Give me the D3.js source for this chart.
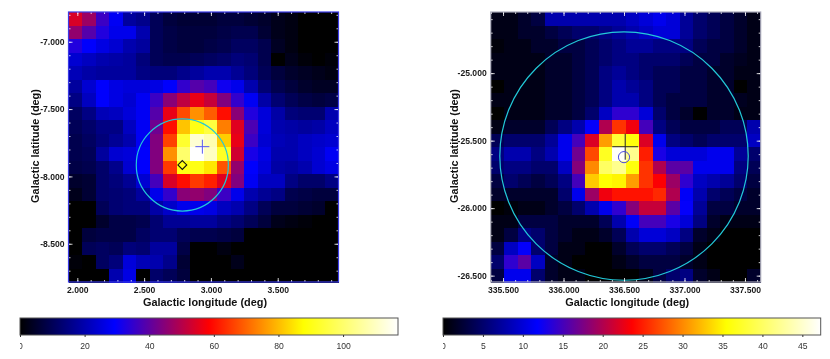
<!DOCTYPE html>
<meta charset="utf-8">
<style>
html, body { margin: 0; background: #fff; }
svg { display: block; filter: blur(0.45px); }
text { font-family: "Liberation Sans", Arial, sans-serif; }
.tick-label text { font-size: 8.6px; fill: #1a1a1a; font-weight: bold; }
.axis-title { font-size: 10.9px; font-weight: bold; fill: #111; }
.bar-axis text { font-size: 8.6px; fill: #333; }
.bar-axis line { stroke: #333; }
.domain { display: none; }
</style>
<svg id="chart" width="830" height="359"></svg>
<script src="https://cdn.jsdelivr.net/npm/d3@7"></script>
<script>

// colour ramp, black - blue - red - yellow - white
var rampColors = ["#000000", "#0000ff", "#ff0000", "#ffff00", "#ffffff"];
var rampStops = [0, 0.25, 0.5, 0.75, 1];

// counts map, left panel (20 x 20, top row first)
var leftCounts = [
  [54,47,36,28,18,16,10,7,6,6,6,7,7,6,5,3,2,0,0,0],
  [46,39,33,27,27,20,10,8,7,7,7,8,9,9,6,3,2,0,0,0],
  [33,29,26,24,20,18,10,8,7,7,8,9,11,11,9,4,2,0,0,0],
  [24,22,20,19,18,14,10,9,9,10,11,12,14,13,9,0,3,1,0,1],
  [21,19,18,18,18,15,14,14,16,18,20,20,17,14,10,7,5,4,3,2],
  [18,24,29,26,25,25,26,29,35,39,37,31,27,20,13,9,7,5,4,4],
  [15,22,29,26,24,28,36,45,51,56,52,44,35,28,19,13,10,8,7,8],
  [11,15,21,22,25,28,39,56,67,75,69,60,45,33,25,19,14,13,13,20],
  [10,12,15,15,22,28,42,60,81,90,95,73,55,38,25,20,19,18,19,22],
  [9,11,14,17,20,28,44,66,93,112,108,82,56,36,24,21,20,22,23,24],
  [9,10,18,24,25,29,44,75,100,117,110,92,53,32,26,20,20,22,24,28],
  [8,9,12,16,24,29,44,65,90,90,85,68,46,29,25,19,18,20,24,26],
  [5,6,12,14,17,24,37,54,60,65,62,55,44,28,22,22,15,12,12,15],
  [3,6,12,13,14,18,27,35,45,46,44,36,27,20,17,15,9,8,7,7],
  [0,0,10,13,14,14,19,23,27,27,26,22,20,15,10,7,7,6,5,0],
  [0,0,5,8,8,9,13,17,17,18,18,15,13,10,7,3,2,1,0,0],
  [0,7,8,8,8,11,13,13,10,9,9,8,7,0,0,0,0,0,0,0],
  [0,10,11,10,14,13,18,18,8,0,0,2,0,0,0,0,0,0,0,0],
  [1,0,11,14,25,21,20,16,6,0,0,0,3,0,0,0,0,0,0,0],
  [0,0,0,20,26,0,12,10,7,0,0,0,0,0,0,0,0,0,0,0]
];
var leftMax = 117;
var leftLonTicks = [2, 2.5, 3, 3.5];
var leftLatTicks = [-7, -7.5, -8, -8.5];
var leftBarTicks = [0, 20, 40, 60, 80, 100];

// counts map, right panel
var rightCounts = [
  [1,1,2,3,8,8,8,8,8,8,9,10,11,10,7,5,4,3,2,1],
  [1,1,2,2,3,4,5,5,6,7,8,9,10,10,7,5,4,3,2,1],
  [0.5,1,1,2,2,3,3,4,5,6,7,7,6,6,6,4,3,3,2,1],
  [1,1,1,1,2,2,3,4,5,6,6,5,5,5,4,3,3,2,1.5,1],
  [1,1,1,1,2,2,3,4,6,7,6,5,4,4,3,3,2,2,1,1],
  [0,1,1,1,2,2,3,4,6,8,7,6,4,4,3,3,2,2,0,1],
  [1,1,1,1,2,2,3,4,6,8,8,6,4,3,3,3,2,2,1.5,1],
  [0,1,1,1,2,2,3,5,9,14,14,10,5,3,2,0,2,2,1,1],
  [1,2,2,2,4,6,8,12,20,26,23,15,6,4,3,3,3,4,4,8],
  [4,5,5,5,7,11,15,22,31,38,36,22,11,6,5,4,5,5,5,9],
  [6,8,8,6,8,11,17,27,37,47,42,25,13,10,10,10,11,11,7,5],
  [5,6,6,5,5,9,18,30,40,42,36,26,20,16,16,11,11,11,6,4],
  [3,5,4,3,4,6,15,33,35.5,35,31,26,23.5,19,14,9,8,7,5,3],
  [2,2,2,2,2,5,11,19,23,24.5,24.5,24.5,25.5,20,11.5,8,5,4,3,2],
  [0,0.5,1,1,2,3,5,8,11,14,18,21,21,16,12,7,3,3,2,2],
  [1,1,3,3,3,2,2,2,4,8,11.5,15,15,13,10,6,2,1,1,1],
  [1,3,6,5,3,2,1,1,2,4,8,10,10,9,6,2,1,0,0,0],
  [3,9,12,5,3,1,1,0,0,2,4,5,5,4,3,1,0,0,0,0],
  [5,14,16,9,2,1,0,0,0,1,2,3,3,3,2,1,0,0,0,0],
  [3,11,11,5,2,1,1,0,0,0,0,1,3,5,6,2,1,0,0,2]
];
var rightMax = 47.3;
var rightLonTicks = [335.5, 336, 336.5, 337, 337.5];
var rightLatTicks = [-25, -25.5, -26, -26.5];
var rightBarTicks = [0, 5, 10, 15, 20, 25, 30, 35, 40, 45];

var svg = d3.select("#chart");
// plain hyphen on the negative labels, as in the picture
function fmt(v) { return v.toFixed(3); }

function minorTicks(scale) {
  var d = scale.domain(), lo = Math.min(d[0], d[1]), hi = Math.max(d[0], d[1]), out = [];
  for (var i = Math.ceil(lo * 10); i <= Math.floor(hi * 10); i++) out.push(i / 10);
  return out;
}

function drawPanel(o) {
  var w = o.x1 - o.x0, h = o.y1 - o.y0;

  var color = d3.scaleLinear()
      .domain(rampStops.map(function(s) { return s * o.max; }))
      .range(rampColors);

  var col = d3.scaleBand().domain(d3.range(20)).range([o.x0, o.x1]);
  var row = d3.scaleBand().domain(d3.range(20)).range([o.y0, o.y1]);

  var cells = svg.append("g").attr("shape-rendering", "crispEdges");
  o.counts.forEach(function(r, j) {
    cells.selectAll(null)
        .data(r)
      .enter().append("rect")
        .attr("x", function(d, i) { return col(i); })
        .attr("y", row(j))
        .attr("width", col.bandwidth() + 0.5)
        .attr("height", row.bandwidth() + 0.5)
        .attr("fill", function(d) { return color(d); });
  });

  var x = d3.scaleLinear().domain(o.lonRange).range([o.x0, o.x1]);
  var y = d3.scaleLinear().domain(o.latRange).range([o.y0, o.y1]);

  // overlays
  var radius = Math.abs(y(0) - y(o.circle[2]));
  svg.append("circle")
      .attr("cx", x(o.circle[0]))
      .attr("cy", y(o.circle[1]))
      .attr("r", radius)
      .attr("fill", "none")
      .attr("stroke", "#22c8d8")
      .attr("stroke-width", 1.2);

  var cx = x(o.cross[0]), cy = y(o.cross[1]);
  svg.append("path")
      .attr("d", "M" + (cx - o.crossSize) + "," + cy + "H" + (cx + o.crossSize) +
                 "M" + cx + "," + (cy - o.crossSize) + "V" + (cy + o.crossSize))
      .attr("fill", "none")
      .attr("stroke", o.crossColor)
      .attr("stroke-width", 1);

  if (o.diamond) {
    svg.append("path")
        .attr("d", d3.symbol().type(d3.symbolDiamond2).size(50))
        .attr("transform", "translate(" + x(o.diamond[0]) + "," + y(o.diamond[1]) + ")")
        .attr("fill", "none")
        .attr("stroke", "#111")
        .attr("stroke-width", 1.1);
  }
  if (o.ring) {
    svg.append("circle")
        .attr("cx", x(o.ring[0]))
        .attr("cy", y(o.ring[1]))
        .attr("r", 5.6)
        .attr("fill", "none")
        .attr("stroke", "#4a4ae0")
        .attr("stroke-width", 1);
  }

  // inner ticks on all four sides
  var sides = [
    [d3.axisBottom(x), o.y1, 0], [d3.axisTop(x), o.y0, 0],
    [d3.axisLeft(y), 0, o.x0], [d3.axisRight(y), 0, o.x1]
  ];
  var ticks = svg.append("g").attr("class", "inner-ticks");
  sides.forEach(function(s) {
    var major = s[0].scale().domain()[0] > 0 ? o.lonTicks : o.latTicks;
    var g = ticks.append("g").attr("transform", "translate(" + s[2] + "," + s[1] + ")");
    g.append("g").call(s[0].tickValues(minorTicks(s[0].scale())).tickSize(-2).tickFormat(""));
    g.append("g").call(s[0].tickValues(major).tickSize(-4).tickFormat(""));
  });
  ticks.selectAll("line").attr("stroke", "#fff").attr("stroke-width", 0.8);
  ticks.selectAll(".domain").remove();

  svg.append("rect")
      .attr("x", o.x0).attr("y", o.y0)
      .attr("width", w).attr("height", h)
      .attr("fill", "none")
      .attr("stroke", o.frame)
      .attr("stroke-width", 1.2);

  // tick labels
  svg.append("g")
      .attr("class", "tick-label")
      .attr("transform", "translate(0," + o.y1 + ")")
      .call(d3.axisBottom(x).tickValues(o.lonTicks).tickSize(0).tickPadding(5).tickFormat(fmt));
  svg.append("g")
      .attr("class", "tick-label")
      .attr("transform", "translate(" + o.x0 + ",0)")
      .call(d3.axisLeft(y).tickValues(o.latTicks).tickSize(0).tickPadding(4).tickFormat(fmt));

  svg.append("text")
      .attr("class", "axis-title")
      .attr("x", (o.x0 + o.x1) / 2 + 1.5)
      .attr("y", o.y1 + 24)
      .attr("text-anchor", "middle")
      .text("Galactic longitude (deg)");
  svg.append("text")
      .attr("class", "axis-title")
      .attr("transform", "translate(" + (o.x0 - o.titleGap) + "," + ((o.y0 + o.y1) / 2 - 1) + ") rotate(-90)")
      .attr("text-anchor", "middle")
      .text("Galactic latitude (deg)");

  // colour bar
  var b = o.bar;
  var gradId = "ramp-" + o.id;
  var grad = svg.append("defs").append("linearGradient").attr("id", gradId);
  grad.selectAll("stop")
      .data(rampStops)
    .enter().append("stop")
      .attr("offset", function(d) { return d * 100 + "%"; })
      .attr("stop-color", function(d, i) { return rampColors[i]; });

  // the zero label is cut by the bar's left edge in the picture
  svg.append("clipPath").attr("id", "bar-clip-" + o.id)
    .append("rect").attr("x", b.x0).attr("y", -2).attr("width", b.x1 - b.x0 + 30).attr("height", 30);

  var bx = d3.scaleLinear().domain([0, o.max]).range([b.x0, b.x1]);
  svg.append("rect")
      .attr("x", b.x0).attr("y", b.y0)
      .attr("width", b.x1 - b.x0).attr("height", b.y1 - b.y0)
      .attr("fill", "url(#" + gradId + ")")
      .attr("stroke", "#555")
      .attr("stroke-width", 1);
  svg.append("g")
      .attr("class", "bar-axis")
      .attr("clip-path", "url(#bar-clip-" + o.id + ")")
      .attr("transform", "translate(0," + b.y1 + ")")
      .call(d3.axisBottom(bx).tickValues(o.barTicks).tickSize(2).tickPadding(6).tickFormat(d3.format("d")));
}

drawPanel({
  id: "left",
  counts: leftCounts, max: leftMax,
  x0: 68.5, x1: 338.5, y0: 12, y1: 282,
  lonRange: [1.934, 3.955], latRange: [-6.779, -8.784],
  lonTicks: leftLonTicks, latTicks: leftLatTicks,
  circle: [2.786, -7.915, 0.342],
  cross: [2.936, -7.779], crossSize: 7, crossColor: "#5a5af0",
  diamond: [2.786, -7.915],
  frame: "#3a3ae6",
  titleGap: 29.5,
  bar: {x0: 20, x1: 398, y0: 318, y1: 335},
  barTicks: leftBarTicks
});

drawPanel({
  id: "right",
  counts: rightCounts, max: rightMax,
  x0: 490.7, x1: 760.7, y0: 12, y1: 282,
  lonRange: [335.398, 337.63], latRange: [-24.547, -26.547],
  lonTicks: rightLonTicks, latTicks: rightLatTicks,
  circle: [336.5, -25.614, 0.92],
  cross: [336.51, -25.545], crossSize: 13, crossColor: "#222",
  ring: [336.5, -25.622],
  frame: "#aab",
  titleGap: 33,
  bar: {x0: 443, x1: 820.7, y0: 318, y1: 335},
  barTicks: rightBarTicks
});

</script>
